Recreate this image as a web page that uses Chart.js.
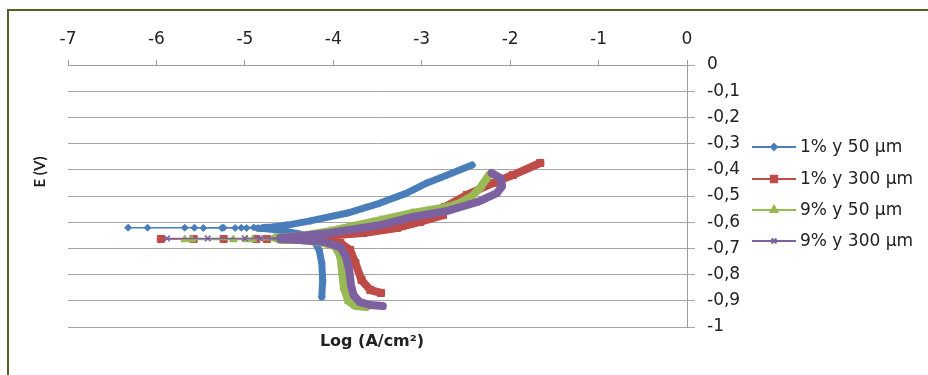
<!DOCTYPE html>
<html>
<head>
<meta charset="utf-8">
<script src="https://cdn.jsdelivr.net/npm/chart.js@4.4.0/dist/chart.umd.min.js"></script>
<style>
  html, body { margin: 0; padding: 0; background: #fff; overflow: hidden; }
  #wrap { position: relative; width: 928px; height: 375px; }
  #frame { position: absolute; left: 7px; top: 9px; width: 940px; height: 400px; border: 2px solid #4f6228; }
  #polChart { position: absolute; left: 0; top: 0; }
</style>
</head>
<body>
<div id="wrap">
  <div id="frame"></div>
  <canvas id="polChart" width="928" height="375"></canvas>
</div>
<script>
(function () {
    // log i (A/cm²) y E (V), en orden de barrido
    const blueLogI = [-4.13, -4.12, -4.13, -4.16, -4.21, -4.29, -4.38, -4.55, -4.72, -4.85, -4.98, -5.11, -5.26, -5.47, -5.68, -6.32,
        -6.10, -5.57, -5.24, -5.04, -4.90, -4.79, -4.68, -4.52, -4.26, -3.84, -3.47, -3.17, -2.94, -2.71, -2.43];
    const blueE = [-0.885, -0.821, -0.756, -0.706, -0.676, -0.656, -0.645, -0.634, -0.626, -0.623, -0.622, -0.622, -0.622, -0.622, -0.621, -0.621,
        -0.621, -0.621, -0.621, -0.621, -0.620, -0.620, -0.618, -0.611, -0.595, -0.565, -0.527, -0.489, -0.450, -0.420, -0.382];

    const redLogI = [-3.46, -3.58, -3.68, -3.75, -3.81, -3.92, -4.09, -4.38, -4.60, -4.75, -5.24, -5.95,
        -5.58, -4.87, -4.60, -4.23, -3.66, -3.28, -3.02, -2.76, -2.74, -2.49, -2.19, -1.97, -1.66];
    const redE = [-0.870, -0.859, -0.821, -0.756, -0.706, -0.679, -0.668, -0.664, -0.664, -0.664, -0.664, -0.664,
        -0.664, -0.664, -0.660, -0.656, -0.641, -0.622, -0.599, -0.573, -0.542, -0.496, -0.450, -0.420, -0.374];

    const greenLogI = [-3.63, -3.75, -3.83, -3.88, -3.90, -3.92, -3.98, -4.15, -4.38, -4.60, -4.91, -5.13, -5.68,
        -5.60, -4.98, -4.66, -4.38, -4.04, -3.47, -3.10, -2.71, -2.57, -2.43, -2.34, -2.27, -2.24];
    const greenE = [-0.924, -0.920, -0.901, -0.851, -0.790, -0.729, -0.691, -0.676, -0.668, -0.668, -0.666, -0.666, -0.666,
        -0.666, -0.666, -0.660, -0.653, -0.634, -0.592, -0.565, -0.542, -0.527, -0.500, -0.469, -0.435, -0.420];

    const purpleLogI = [-3.44, -3.58, -3.70, -3.77, -3.80, -3.82, -3.86, -3.92, -4.09, -4.38, -4.60, -4.83, -5.42, -5.88,
        -5.00, -4.60, -4.04, -3.47, -3.10, -2.71, -2.37, -2.15, -2.09, -2.11, -2.21];
    const purpleE = [-0.920, -0.916, -0.905, -0.878, -0.840, -0.782, -0.729, -0.695, -0.676, -0.668, -0.664, -0.662, -0.662, -0.662,
        -0.662, -0.660, -0.641, -0.611, -0.580, -0.557, -0.523, -0.489, -0.462, -0.431, -0.412];

    const seriesNames = ['1% y 50 µm', '1% y 300 µm', '9% y 50 µm', '9% y 300 µm'];

    const pts = (xs, ys) => xs.map((x, i) => ({ x: x, y: ys[i] }));
    const tickFont = { family: 'DejaVu Sans', size: 17 };

    // tramo fino (marcadores sueltos) a la izquierda, banda gruesa donde los puntos se amontonan
    function serie(name, xs, ys, color, style, radius, band, bandFrom, order) {
        return {
            label: name,
            data: pts(xs, ys),
            showLine: true,
            borderColor: color,
            backgroundColor: color,
            pointBorderColor: color,
            pointBackgroundColor: color,
            pointStyle: style,
            pointRadius: radius,
            pointBorderWidth: style === 'crossRot' ? 1.5 : 1,
            borderWidth: band,
            borderCapStyle: 'round',
            borderJoinStyle: 'round',
            tension: 0,
            order: order,
            segment: {
                borderWidth: (ctx) => (ctx.p0.parsed.x < bandFrom || ctx.p1.parsed.x < bandFrom) ? 1.5 : band
            }
        };
    }

    const legendPlugin = {
        id: 'sideLegend',
        afterDraw(chart) {
            const c = chart.ctx;
            const rows = [147, 179, 210, 241];
            c.save();
            chart.data.datasets.forEach((ds, i) => {
                const y = rows[i];
                c.strokeStyle = ds.borderColor;
                c.fillStyle = ds.borderColor;
                c.lineWidth = 2;
                c.beginPath();
                c.moveTo(752, y);
                c.lineTo(796, y);
                c.stroke();
                Chart.helpers.drawPoint(c, { pointStyle: ds.pointStyle, radius: ds.pointRadius - 0.5, borderWidth: ds.pointBorderWidth, rotation: 0 }, 774, y);
                c.fillStyle = '#222';
                c.font = '17px "DejaVu Sans"';
                c.textAlign = 'left';
                c.textBaseline = 'middle';
                c.fillText(ds.label, 800, y + 1);
            });
            c.restore();
        }
    };

    const titlesPlugin = {
        id: 'axisTitles',
        afterDraw(chart) {
            const c = chart.ctx;
            c.save();
            c.fillStyle = '#222';
            c.textAlign = 'center';
            c.textBaseline = 'middle';
            c.font = 'bold 16px "DejaVu Sans"';
            c.fillText('Log (A/cm²)', 372, 342);
            c.translate(40, 172);
            c.rotate(-Math.PI / 2);
            c.font = 'bold 15px Lato';
            c.fillText('E (V)', 0, 0);
            c.restore();
        }
    };

    new Chart(document.getElementById('polChart').getContext('2d'), {
        type: 'scatter',
        data: {
            datasets: [
                serie(seriesNames[0], blueLogI, blueE, '#4a7ebb', 'rectRot', 3.5, 7, -4.85, 3),
                serie(seriesNames[1], redLogI, redE, '#be4b48', 'rect', 5, 8, -4.7, 2),
                serie(seriesNames[2], greenLogI, greenE, '#98b954', 'triangle', 4.5, 8, -4.7, 1),
                serie(seriesNames[3], purpleLogI, purpleE, '#7d60a0', 'crossRot', 4, 8, -4.7, 0)
            ]
        },
        options: {
            responsive: false,
            animation: false,
            layout: { padding: { left: 68, right: 0, top: 0, bottom: 48 } },
            plugins: {
                legend: { display: false },
                tooltip: { enabled: false }
            },
            scales: {
                x: {
                    type: 'linear', position: 'top', min: -7, max: 0,
                    ticks: { stepSize: 1, padding: 10, color: '#222', font: tickFont },
                    grid: { drawOnChartArea: false, tickLength: 5, color: '#9d9d9d' },
                    border: { color: '#9d9d9d' },
                    afterFit: (s) => { s.height = 65; }
                },
                y: {
                    type: 'linear', position: 'right', min: -1, max: 0,
                    ticks: {
                        stepSize: 0.1, padding: 12, color: '#222', font: tickFont,
                        callback: (v) => String(Number(v.toFixed(1))).replace('.', ',')
                    },
                    grid: { color: '#a6a6a6', tickLength: 8 },
                    border: { color: '#9d9d9d' },
                    afterFit: (s) => { s.width = 241; }
                }
            }
        },
        plugins: [legendPlugin, titlesPlugin]
    });
})();
</script>
</body>
</html>
